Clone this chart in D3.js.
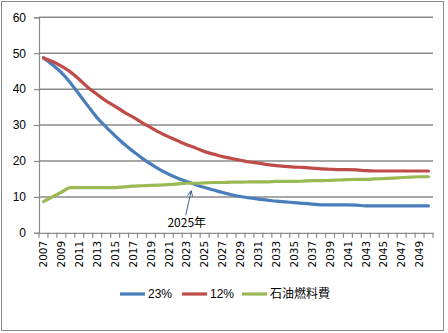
<!DOCTYPE html>
<html><head><meta charset="utf-8">
<script src="https://cdn.jsdelivr.net/npm/d3@7"></script>
<style>body{margin:0;background:#fff}svg{display:block}</style>
</head><body>
<div id="chart"></div>
<script>
const years = d3.range(2007, 2051).map(String);
const s23 = [48.7,46.8,44.6,41.8,38.5,35.2,32.0,29.4,27.0,24.7,22.7,20.8,19.1,17.6,16.3,15.2,14.3,13.4,12.6,11.9,11.2,10.6,10.1,9.7,9.4,9.1,8.8,8.6,8.4,8.2,8.0,7.8,7.8,7.8,7.8,7.7,7.5,7.5,7.5,7.5,7.5,7.5,7.5,7.5];
const s12 = [48.7,47.7,46.4,44.8,42.7,40.4,38.5,36.7,35.2,33.6,32.2,30.7,29.3,27.9,26.7,25.6,24.5,23.6,22.6,21.9,21.2,20.7,20.2,19.7,19.4,19.0,18.7,18.5,18.3,18.2,18.0,17.8,17.7,17.6,17.6,17.5,17.3,17.2,17.2,17.2,17.2,17.2,17.2,17.2];
const sOil = [8.7,10.0,11.3,12.6,12.6,12.6,12.6,12.6,12.6,12.8,13.0,13.1,13.2,13.3,13.4,13.6,13.8,13.8,13.9,14.0,14.0,14.1,14.1,14.2,14.2,14.2,14.3,14.3,14.3,14.4,14.5,14.5,14.6,14.7,14.8,14.9,14.9,15.0,15.1,15.2,15.4,15.5,15.6,15.6];
const seriesNames = ["23%","12%","石油燃料費"];
const seriesColors = ["#4a7ebb","#be4b48","#98b954"];
const yTicks = [0,10,20,30,40,50,60];
const xLabelYears = years.filter((d,i)=>i%2===0);
const annoText = "2025年";

const W=448,H=333;
const svg=d3.select("#chart").append("svg").attr("width",W).attr("height",H);
svg.append("rect").attr("x",1.5).attr("y",1.5).attr("width",442).attr("height",329)
  .attr("fill","#fff").attr("stroke","#8a8a8a").attr("stroke-width",1);

const L=39,R=433,T=17.3,B=232.8;
const x=d3.scaleBand().domain(years).range([L,R]).padding(0);
const y=d3.scaleLinear().domain([0,60]).range([B,T]);
const grid="#8a8a8a";

// gridlines
svg.append("g").selectAll("line").data(yTicks.filter(d=>d>0)).join("line")
  .attr("x1",L).attr("x2",R).attr("y1",d=>y(d)).attr("y2",d=>y(d))
  .attr("stroke",grid).attr("stroke-width",1.5);

// y axis
const ya=svg.append("g").attr("transform",`translate(${L},0)`)
  .call(d3.axisLeft(y).tickValues(yTicks).tickSize(5).tickPadding(8));
ya.select(".domain").attr("stroke",grid).attr("stroke-width",1.2);
ya.selectAll(".tick line").attr("stroke",grid).attr("stroke-width",1.2);
ya.selectAll("text").attr("font-family","Liberation Sans, Arial, sans-serif").attr("font-size",12).attr("fill","#000");

// x axis
const xa=svg.append("g").attr("transform",`translate(0,${B})`)
  .call(d3.axisBottom(x).tickValues(xLabelYears).tickSize(0).tickPadding(0));
xa.select(".domain").attr("stroke",grid).attr("stroke-width",1.2);
xa.selectAll("text").attr("font-family","DejaVu Sans, Verdana, sans-serif").attr("font-size",10.5).attr("fill","#000")
  .attr("text-anchor","end").attr("dy","0.35em").attr("dx",0)
  .attr("transform","translate(0,8) rotate(-90)")
  .attr("x",-0).attr("y",0);
// tick marks between categories
const bounds=years.map(d=>x(d)).concat([R]);
svg.append("g").selectAll("line").data(bounds).join("line")
  .attr("x1",d=>d).attr("x2",d=>d).attr("y1",B).attr("y2",B+5)
  .attr("stroke",grid).attr("stroke-width",1.2);

// lines
const line=d3.line().x((d,i)=>x(years[i])+x.bandwidth()/2).y(d=>y(d)).curve(d3.curveMonotoneX);
[s23,s12,sOil].forEach((s,k)=>{
  svg.append("path").datum(s).attr("d",line).attr("fill","none")
    .attr("stroke",seriesColors[k]).attr("stroke-width",3.2).attr("stroke-linejoin","round").attr("stroke-linecap","round");
});

// annotation
const tipX=x("2024"), tipY=y(11.7);
const tailX=tipX-5.5, tailY=y(4.9);
const ac="#3c5f8c";
svg.append("line").attr("x1",tailX).attr("y1",tailY).attr("x2",tipX).attr("y2",tipY)
  .attr("stroke",ac).attr("stroke-width",1);
const ang=Math.atan2(tipY-tailY,tipX-tailX);
[0.45,-0.45].forEach(a=>{
  svg.append("line").attr("x1",tipX).attr("y1",tipY)
    .attr("x2",tipX-6*Math.cos(ang+a)).attr("y2",tipY-6*Math.sin(ang+a))
    .attr("stroke",ac).attr("stroke-width",1);
});
svg.append("text").attr("x",tailX+1).attr("y",y(1.7)).attr("text-anchor","middle")
  .attr("font-family","Noto Sans CJK JP, sans-serif").attr("font-size",12).attr("fill","#000").text(annoText);

// legend
const lg=svg.append("g").attr("transform","translate(0,294)");
const legX=[120,182,242];
seriesNames.forEach((n,k)=>{
  lg.append("line").attr("x1",legX[k]).attr("x2",legX[k]+25).attr("y1",0).attr("y2",0)
    .attr("stroke",seriesColors[k]).attr("stroke-width",3.2);
  lg.append("text").attr("x",legX[k]+28).attr("y",0).attr("dy","0.35em")
    .attr("font-family", k===2?"Noto Sans CJK JP, sans-serif":"Liberation Sans, Arial, sans-serif")
    .attr("font-size",12).attr("fill","#000").text(n);
});
</script>
</body></html>
